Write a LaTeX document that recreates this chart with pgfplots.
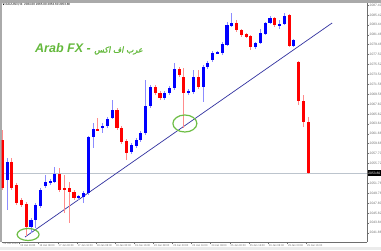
\documentclass[border=0pt]{standalone}
\usepackage{pgfplots}
\pgfplotsset{compat=1.18}
\usepackage{pgfplotstable}
\usepackage{fontspec}
\setmainfont{Liberation Sans}
\newfontfamily\arabicfont[Script=Arabic, FakeSlant=0.2, FakeBold=1.5]{DejaVu Sans}
\TeXXeTstate=1

\definecolor{bull}{RGB}{0,0,255}
\definecolor{bear}{RGB}{255,0,0}
\definecolor{bullwick}{RGB}{140,140,255}
\definecolor{bearwick}{RGB}{255,140,140}
\definecolor{trend}{RGB}{50,50,160}
\definecolor{ring}{RGB}{110,190,70}
\definecolor{axisgray}{RGB}{110,110,110}
\definecolor{pricegray}{RGB}{188,196,205}
\definecolor{arabgreen}{RGB}{100,185,60}
\definecolor{frame}{RGB}{170,170,170}

% H4 bars: index, open, high, low, close
\pgfplotstableread{
i open high low close
0 2060.4 2062.4 2050.4 2050.8
1 2052.4 2056.8 2046.4 2056.0
2 2056.0 2056.8 2050.4 2050.8
3 2051.4 2051.8 2047.4 2047.8
4 2048.4 2048.8 2047.0 2047.4
5 2047.6 2048.0 2041.2 2043.0
6 2043.0 2044.8 2041.8 2044.4
7 2044.4 2047.8 2042.8 2047.4
8 2047.2 2050.8 2046.8 2050.4
9 2051.2 2053.4 2050.8 2052.0
10 2051.8 2052.6 2051.4 2052.2
11 2052.0 2055.0 2051.8 2053.6
12 2053.6 2054.8 2050.0 2050.4
13 2050.8 2053.4 2045.8 2050.4
14 2050.8 2052.0 2043.8 2050.0
15 2050.0 2050.4 2048.4 2048.8
16 2048.8 2049.4 2048.4 2049.2
17 2049.0 2050.2 2047.8 2049.8
18 2049.8 2061.2 2049.4 2061.0
19 2061.0 2063.8 2058.8 2062.6
20 2062.6 2064.8 2062.2 2062.3
21 2062.8 2063.8 2061.8 2063.2
22 2063.2 2065.0 2062.8 2064.6
23 2064.8 2068.4 2064.6 2066.4
24 2066.4 2066.8 2062.4 2062.8
25 2062.8 2063.2 2059.6 2060.0
26 2060.2 2060.6 2056.4 2057.8
27 2058.0 2059.8 2057.6 2059.4
28 2059.2 2060.8 2058.8 2060.4
29 2060.4 2062.2 2060.0 2061.8
30 2061.8 2072.4 2061.4 2067.2
31 2067.2 2071.4 2066.8 2071.0
32 2071.0 2071.4 2069.4 2069.8
33 2069.8 2070.2 2068.4 2068.8
34 2068.8 2070.2 2068.4 2069.8
35 2069.8 2071.2 2069.4 2070.8
36 2070.8 2075.8 2070.4 2074.6
37 2074.6 2075.0 2073.0 2073.4
38 2073.0 2074.8 2062.8 2069.8
39 2069.8 2070.6 2069.4 2070.2
40 2070.0 2074.4 2069.6 2073.0
41 2073.0 2074.4 2070.6 2071.0
42 2071.0 2075.4 2068.0 2075.0
43 2075.0 2076.2 2074.6 2075.8
44 2076.4 2078.2 2076.0 2077.8
45 2077.8 2078.2 2077.6 2078.0
46 2077.8 2080.0 2077.4 2079.6
47 2079.4 2084.0 2079.2 2083.4
48 2083.2 2085.8 2083.0 2083.8
49 2083.8 2084.4 2082.0 2082.4
50 2082.4 2082.6 2081.0 2081.4
51 2081.6 2081.8 2080.8 2081.0
52 2081.2 2081.4 2078.4 2079.0
53 2079.0 2080.0 2078.6 2079.8
54 2079.8 2082.6 2079.6 2081.8
55 2081.6 2084.0 2081.4 2083.8
56 2083.8 2085.2 2083.6 2084.8
57 2084.8 2085.0 2083.0 2083.4
58 2083.4 2084.4 2082.6 2083.6
59 2083.6 2085.8 2083.4 2085.2
60 2085.4 2085.6 2079.0 2079.2
61 2079.2 2080.6 2079.0 2080.4
62 2076.0 2076.2 2067.4 2068.2
63 2068.2 2069.4 2063.0 2064.0
64 2064.0 2065.0 2053.6 2053.8
}\ohlc

\pgfplotsset{
  candle part/.style n args={2}{draw=none, mark=none, unbounded coords=discard,
    error bars/.cd, y dir=both, y explicit, error mark=none,
    error bar style={draw=#1, line width=#2}},
}

\begin{document}
\begin{tikzpicture}[x=1pt,y=1pt]
\useasboundingbox (0,0) rectangle (381,250);
\fill[white] (0,0) rectangle (381,250);
% window frame
\fill[frame] (0,247.3) rectangle (381,250);
\fill[frame] (0,8) rectangle (1.7,250);
\fill[black!8] (0,0) rectangle (381,2.6);

\begin{axis}[
  at={(1.7pt,8pt)}, anchor=south west,
  scale only axis, width=365.3pt, height=239.3pt,
  xmin=-0.125, xmax=76.3, ymin=2040, ymax=2087.86,
  axis x line*=bottom, axis y line*=right,
  axis line style={axisgray, line width=0.6pt, -},
  tick align=outside, major tick length=2pt,
  tick style={axisgray, line width=0.4pt},
  ytick={2041.86,2043.84,...,2087.5},
  xtick={3.6,7.6,...,63.7},
  xticklabels={15 Jan 16:00,16 Jan 08:00,17 Jan 00:00,17 Jan 16:00,18 Jan 08:00,19 Jan 00:00,19 Jan 16:00,22 Jan 08:00,23 Jan 00:00,23 Jan 16:00,24 Jan 08:00,25 Jan 00:00,25 Jan 16:00,26 Jan 08:00,29 Jan 00:00,29 Jan 16:00},
  extra x ticks={0.05}, extra x tick labels={15 Jan 2024},
  extra x tick style={major tick length=0pt},
  xticklabel style={anchor=north west, font=\fontsize{2.6}{3}\selectfont, text=axisgray, inner sep=0.4pt, xshift=0.3pt, yshift=-0.4pt},
  yticklabel style={anchor=west, font=\fontsize{3.3}{4}\selectfont, text=axisgray, inner sep=0.5pt},
  /pgf/number format/.cd, fixed, precision=2, fixed zerofill, 1000 sep={}, assume math mode=true,
]
% last price level
\addplot[pricegray, line width=0.6pt] coordinates {(-0.125,2053.8) (76.3,2053.8)};
% trend line
\addplot[trend, line width=0.7pt] coordinates {(4.75,2041.0) (69,2083.8)};

% wicks
\addplot[candle part={bullwick}{0.9pt}]
  table[x=i, y expr={\thisrow{close}>=\thisrow{open} ? (\thisrow{high}+\thisrow{low})/2 : nan},
        y error expr={(\thisrow{high}-\thisrow{low})/2}] {\ohlc};
\addplot[candle part={bearwick}{0.9pt}]
  table[x=i, y expr={\thisrow{close}<\thisrow{open} ? (\thisrow{high}+\thisrow{low})/2 : nan},
        y error expr={(\thisrow{high}-\thisrow{low})/2}] {\ohlc};
% bodies
\addplot[candle part={bull}{3.1pt}]
  table[x=i, y expr={\thisrow{close}>=\thisrow{open} ? (\thisrow{open}+\thisrow{close})/2 : nan},
        y error expr={max(abs(\thisrow{close}-\thisrow{open})/2,0.12)}] {\ohlc};
\addplot[candle part={bear}{3.1pt}]
  table[x=i, y expr={\thisrow{close}<\thisrow{open} ? (\thisrow{open}+\thisrow{close})/2 : nan},
        y error expr={max(abs(\thisrow{close}-\thisrow{open})/2,0.12)}] {\ohlc};

% rings around the two touches of the trend line
\draw[ring, line width=1.2pt] (axis cs:5.4,2041.5) ellipse [x radius=11pt, y radius=6pt];
\draw[ring, line width=1.2pt] (axis cs:38.2,2063.7) ellipse [x radius=12pt, y radius=8.5pt];

\coordinate (cp) at (axis cs:76.3,2053.8);
\end{axis}

% last price tag
\node[anchor=west, fill=black, text=white, inner sep=0.6pt, minimum height=6.5pt,
  font=\fontsize{3.3}{4}\selectfont] at ([xshift=0.6pt]cp) {2053.80};

% symbol header
\fill[black] (2.6,246.4) -- (4.6,246.4) -- (3.6,244.9) -- cycle;
\node[anchor=west, inner sep=0pt, font=\fontsize{3}{3.5}\selectfont] at (5.2,245.6)
  {XAUUSD,H4\ \ 2064.00 2065.00 2053.60 2053.80};

% watermark
\node[anchor=west, inner sep=0pt, text=arabgreen, font=\fontsize{12.5}{14}\selectfont\bfseries\itshape]
  at (35,201) {Arab FX - {\arabicfont\mdseries\upshape\fontsize{8}{10}\selectfont\beginR عرب اف اكس\endR}};
\end{tikzpicture}
\end{document}
